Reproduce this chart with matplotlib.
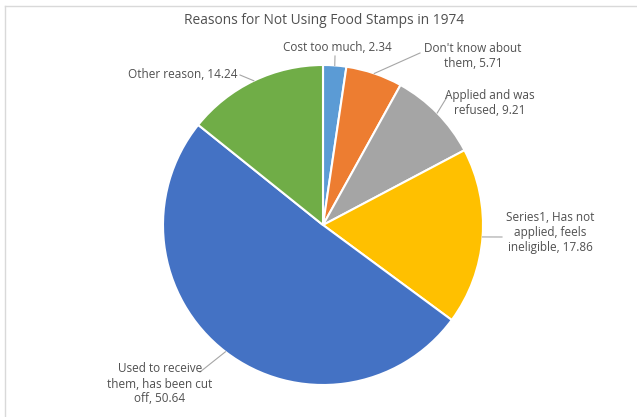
import matplotlib
matplotlib.use("Agg")
import matplotlib.pyplot as plt
import numpy as np

title = "Reasons for Not Using Food Stamps in 1974"
categories = ["Cost too much", "Don't know about them", "Applied and was refused",
              "Has not applied, feels ineligible", "Used to receive them, has been cut off",
              "Other reason"]
values = [2.34, 5.71, 9.21, 17.86, 50.64, 14.24]
label_texts = ["Cost too much, 2.34", "Don't know about\nthem, 5.71", "Applied and was\nrefused, 9.21",
               "Series1, Has not\napplied, feels\nineligible, 17.86",
               "Used to receive\nthem, has been cut\noff, 50.64", "Other reason, 14.24"]
colors = ["#5B9BD5", "#ED7D31", "#A5A5A5", "#FFC000", "#4472C4", "#70AD47"]

W, H = 637, 417
fig = plt.figure(figsize=(W / 100, H / 100), dpi=100)
ax = fig.add_axes([0, 0, 1, 1])

plt.rcParams['font.family'] = ['Open Sans', 'DejaVu Sans']
txtc = "#505050"

cx, cy, r = 323, H - 225, 160
wedges, _ = ax.pie(values, colors=colors, startangle=90, counterclock=False,
                   center=(cx, cy), radius=r, frame=True,
                   wedgeprops=dict(edgecolor="white", linewidth=1.5))
ax.set_xlim(0, W)
ax.set_ylim(0, H)
ax.set_aspect("equal")
ax.axis("off")

# chart border (top and left visible)
ax.plot([5, W], [H - 6, H - 6], color="#D9D9D9", lw=1, clip_on=False)
ax.plot([5, 5], [H - 6, 0], color="#D9D9D9", lw=1, clip_on=False)

fig.text(324 / W, 1 - 20 / H, title, ha="center", va="center", fontsize=9.9, color=txtc)

# label positions (pixel, y down), and leader end point
label_pos = [(337, 47), (473, 56), (490, 103), (550, 232), (160, 384), (183, 74)]
leader_end = [(335, 56), (420, 53), (447, 97), (502, 237), (200, 372), (240, 75)]

cum = np.cumsum([0] + values)
total = cum[-1]
for i, v in enumerate(values):
    mid = (cum[i] + v / 2) / total * 2 * np.pi
    ex = cx + r * np.sin(mid)
    ey = cy + r * np.cos(mid)
    lx, ly = leader_end[i]
    ax.plot([ex, lx], [ey, H - ly], color="#A6A6A6", lw=0.8)
    px, py = label_pos[i]
    ax.text(px, H - py, label_texts[i], ha="center", va="center", fontsize=8.5,
            color=txtc, linespacing=1.2)

fig.savefig("out.png", dpi=100)
